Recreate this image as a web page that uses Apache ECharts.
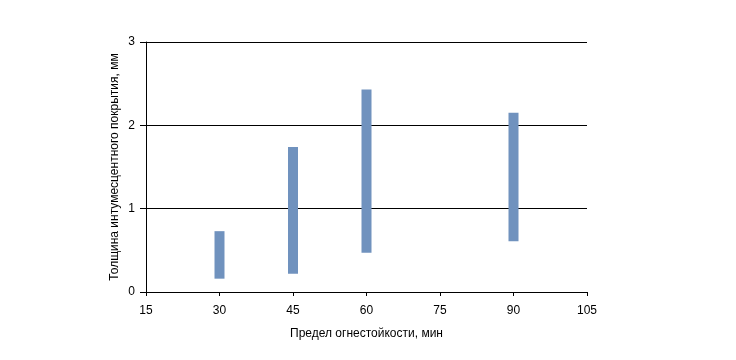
<!DOCTYPE html>
<html><head><meta charset="utf-8">
<script src="https://cdn.jsdelivr.net/npm/echarts@6/dist/echarts.min.js"></script>
<style>html,body{margin:0;padding:0;background:#fff}#c{width:736px;height:360px}</style>
</head><body><div id="c"></div>
<script>
var minutes = [30, 45, 60, 90];
var lowValues = [0.16, 0.22, 0.47, 0.61];
var highValues = [0.73, 1.74, 2.43, 2.15];
var xTitle = 'Предел огнестойкости, мин';
var yTitle = 'Толщина интумесцентного покрытия, мм';

var data = minutes.map(function (m, i) { return [m, lowValues[i], highValues[i]]; });
var chart = echarts.init(document.getElementById('c'));
var font = 'Liberation Sans, Arial, sans-serif';
chart.setOption({
  animation: false,
  grid: { left: 146, right: 149, top: 42, bottom: 68 },
  xAxis: {
    type: 'value', min: 15, max: 105, interval: 15,
    name: xTitle, nameLocation: 'middle', nameGap: 36, nameMoveOverlap: false,
    nameTextStyle: { color: '#000', fontSize: 12, fontFamily: font },
    axisLine: { show: true, lineStyle: { color: '#000', width: 1 } },
    axisTick: { show: true, length: 4, lineStyle: { color: '#000' } },
    axisLabel: { color: '#000', fontSize: 12, fontFamily: font, margin: 13 },
    splitLine: { show: false }
  },
  yAxis: {
    type: 'value', min: 0, max: 3, interval: 1,
    name: yTitle, nameLocation: 'middle', nameGap: 25, nameMoveOverlap: false,
    nameTextStyle: { color: '#000', fontSize: 12, fontFamily: font },
    axisLine: { show: true, lineStyle: { color: '#000', width: 1 } },
    axisTick: { show: true, length: 6, lineStyle: { color: '#000' } },
    axisLabel: { color: '#000', fontSize: 12, fontFamily: font, margin: 11 },
    splitLine: { show: true, lineStyle: { color: '#000', width: 1 } }
  },
  series: [{
    type: 'custom',
    data: data,
    encode: { x: 0, y: [1, 2] },
    renderItem: function (params, api) {
      var x = api.value(0);
      var p1 = api.coord([x, api.value(1)]);
      var p2 = api.coord([x, api.value(2)]);
      var w = 10;
      return {
        type: 'rect',
        shape: { x: p1[0] - w / 2, y: p2[1], width: w, height: p1[1] - p2[1] },
        style: { fill: '#7092be' }
      };
    }
  }]
});
</script></body></html>
